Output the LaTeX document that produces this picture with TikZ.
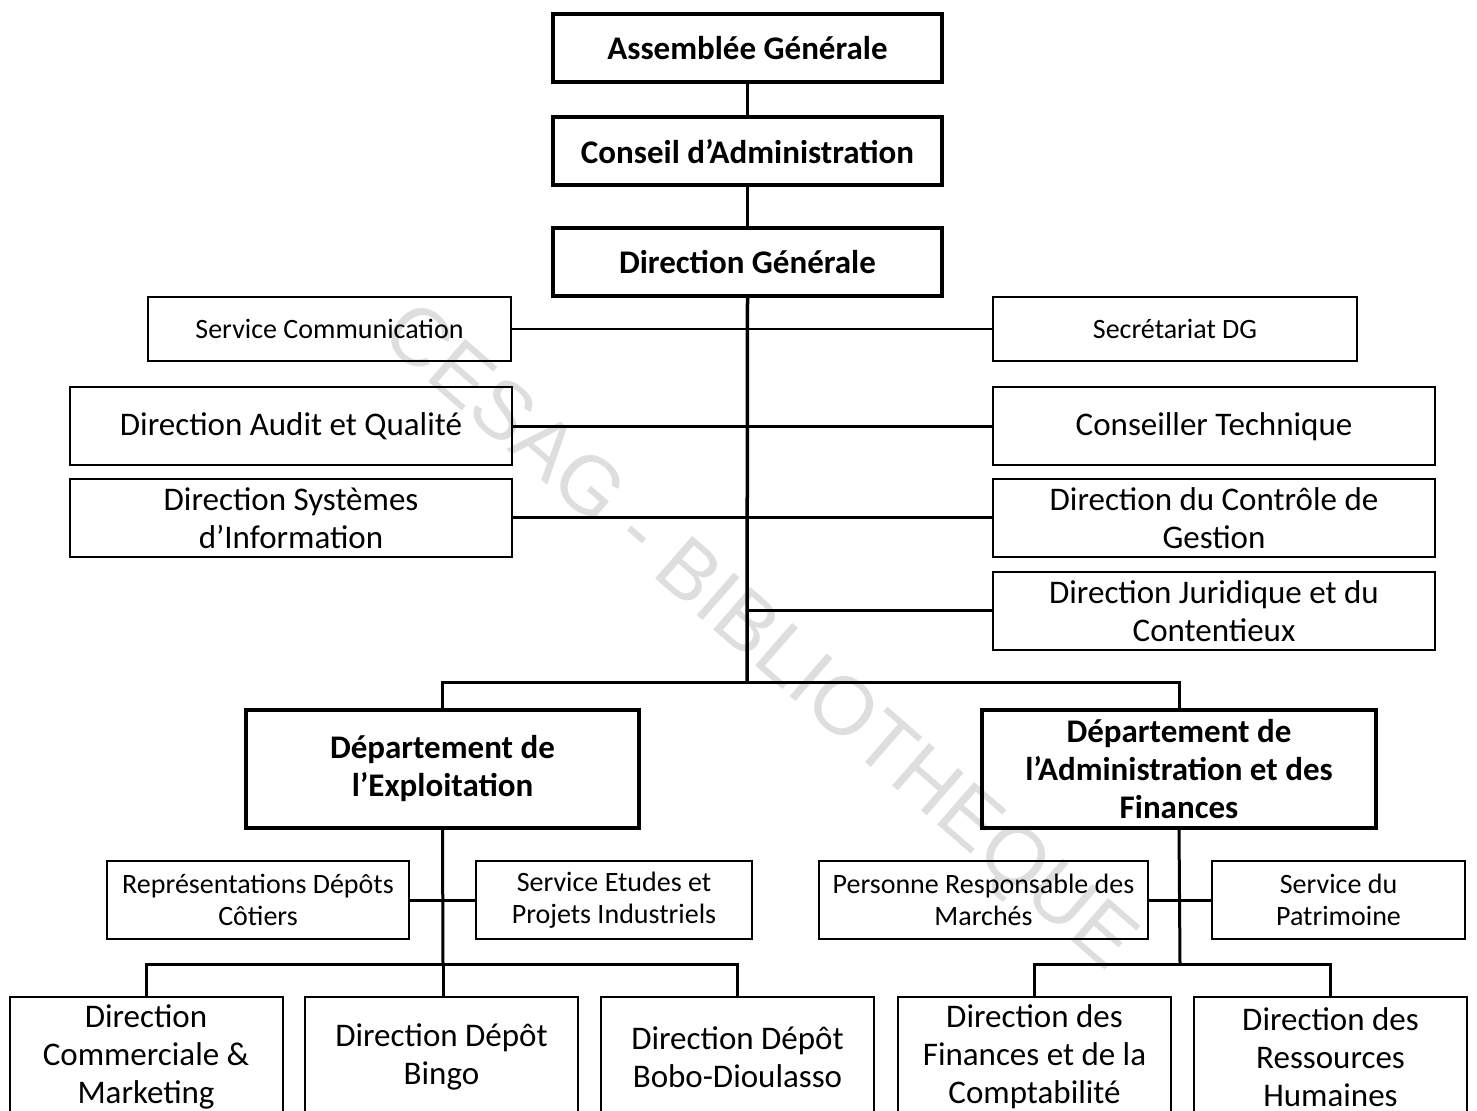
\documentclass[tikz,border=0pt]{standalone}
\usepackage{fontspec}
\setmainfont{Carlito}
\newfontfamily\wmfont{Liberation Sans}

\begin{document}
\begin{tikzpicture}[x=0.5pt,y=-0.5pt,
  unit/.style={draw,line width=1pt,inner sep=0pt,outer sep=0pt,align=center,
    font=\fontsize{16.5}{19}\selectfont},
  headunit/.style={unit,line width=2pt,font=\bfseries\fontsize{16.5}{19}\selectfont},
  staffunit/.style={unit,font=\fontsize{14}{16}\selectfont},
  link/.style={line width=1.5pt},
  thinlink/.style={line width=0.75pt},
  mainlink/.style={line width=1.75pt}]

\useasboundingbox (0,0) rectangle (1477,1111);
\clip (0,0) rectangle (1477,1111);

% watermark
\node[text=black!13,font=\wmfont\fontsize{41}{41}\selectfont,rotate=-41] (wm) at (757,640) {CESAG - BIBLIOTHEQUE};

% top of the tree
\foreach \name/\y/\txt in {ag/48/Assemblée Générale, ca/151.5/Conseil d'Administration, dg/262/Direction Générale}
  \node[headunit,minimum width=194.5pt,minimum height=34pt] (\name) at (747.5,\y) {\txt};

\node[staffunit,minimum width=181.5pt,minimum height=32pt] (sc) at (329.5,329) {Service Communication};
\node[staffunit,minimum width=182pt,minimum height=32pt] (sdg) at (1175,329) {Secrétariat DG};

\foreach \name/\x/\y/\txt in {daq/291/426.5/Direction Audit et Qualité, ct/1214/426.5/Conseiller Technique,
    dsi/291/518/{Direction Systèmes\\d'Information}, dcg/1214/518/{Direction du Contrôle de\\Gestion},
    djc/1214/611/{Direction Juridique et du\\Contentieux}}
  \node[unit,minimum width=221pt,minimum height=39pt] (\name) at (\x,\y) {\txt};

% departements
\node[headunit,minimum width=196.5pt,minimum height=59pt] (de) at (442.5,769) {Département de\\l'Exploitation};
\node[headunit,minimum width=197pt,minimum height=59pt] (daf) at (1179,769) {Département de\\l'Administration et des\\Finances};

\node[staffunit,minimum width=151pt,minimum height=39pt] (rdc) at (258,900) {Représentations Dépôts\\Côtiers};
\node[staffunit,minimum width=138pt,minimum height=39pt] (sepi) at (614,900) {Service Etudes et\\Projets Industriels};
\node[staffunit,minimum width=164.5pt,minimum height=39pt] (prm) at (983.5,900) {Personne Responsable des\\Marchés};
\node[staffunit,minimum width=126.5pt,minimum height=39pt] (sp) at (1338.5,900) {Service du\\Patrimoine};

\foreach \name/\x/\txt in {dcm/146/{Direction\\Commerciale \&\\Marketing}, ddb/441.5/{Direction Dépôt\\Bingo},
    ddbd/737.5/{Direction Dépôt\\Bobo-Dioulasso}, dfc/1034.5/{Direction des\\Finances et de la\\Comptabilité},
    drh/1330.5/{Direction des\\Ressources\\Humaines}}
  \node[unit,minimum width=136.5pt,minimum height=60pt] (\name) at (\x,1057) {\txt};

% links
\coordinate (hub) at (747,683);
\coordinate (ebus) at (443,964);
\coordinate (afbus) at (1180,964);
\draw[link] (ag.south) -- (ca.north);
\draw[link] (ca.south) -- (dg.north);
\draw[mainlink] (dg.south) -- (hub);
\draw[thinlink] (sc.east) -- (sdg.west);
\draw[link] (daq.east) -- (ct.west);
\draw[link] (dsi.east) -- (dcg.west);
\draw[link] (djc.west) -- (djc.west -| hub);
\draw[link] (de.north) |- (hub) -| (daf.north);

\draw[link] (de.south) -- (ebus);
\draw[link] (rdc.east) -- (sepi.west);
\draw[link] (dcm.north) |- (ebus) -| (ddbd.north);
\draw[link] (ebus) -- (ebus |- ddb.north);

\draw[link] (daf.south) -- (afbus);
\draw[link] (prm.east) -- (sp.west);
\draw[link] (dfc.north) |- (afbus) -| (drh.north);

\end{tikzpicture}
\end{document}
